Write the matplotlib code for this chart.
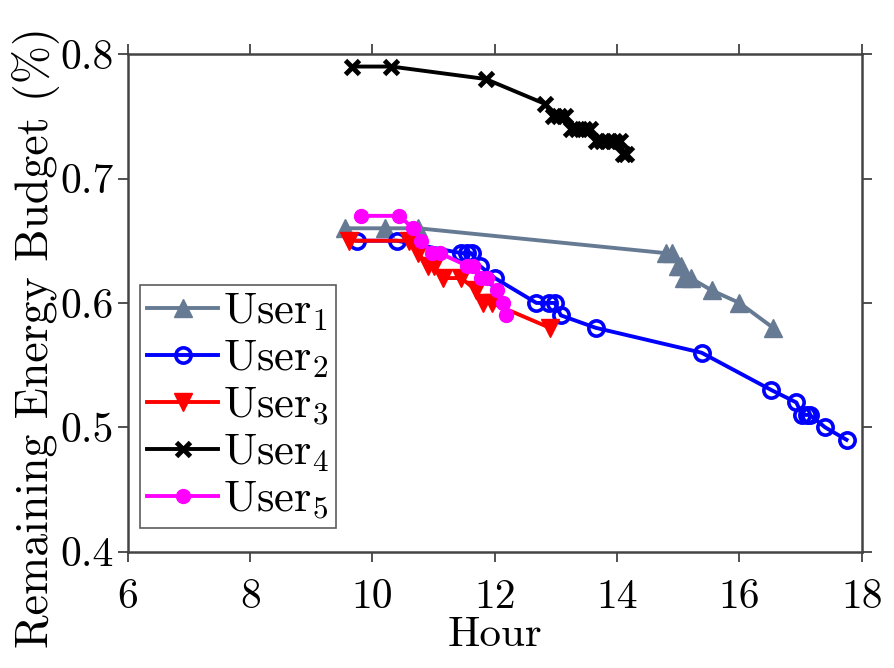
import matplotlib
matplotlib.use('Agg')
import matplotlib.pyplot as plt
import numpy as np

plt.rcParams['font.family'] = 'serif'
plt.rcParams['font.serif'] = ['cmr10', 'DejaVu Serif']
plt.rcParams['mathtext.fontset'] = 'cm'
plt.rcParams['axes.unicode_minus'] = False

# data
user1_x = [9.55, 10.2, 10.75, 14.8, 14.9, 15.0, 15.05, 15.1, 15.2, 15.55, 16.0, 16.55]
user1_y = [0.66, 0.66, 0.66, 0.64, 0.64, 0.63, 0.63, 0.62, 0.62, 0.61, 0.60, 0.58]

user2_x = [9.75, 10.4, 11.45, 11.55, 11.62, 11.75, 12.0, 12.68, 12.88, 12.98, 13.08, 13.65,
           15.38, 16.52, 16.93, 17.02, 17.1, 17.15, 17.4, 17.75]
user2_y = [0.65, 0.65, 0.64, 0.64, 0.64, 0.63, 0.62, 0.60, 0.60, 0.60, 0.59, 0.58,
           0.56, 0.53, 0.52, 0.51, 0.51, 0.51, 0.50, 0.49]

user3_x = [9.62, 10.6, 10.75, 10.9, 11.0, 11.15, 11.45, 11.7, 11.8, 11.95, 12.9]
user3_y = [0.65, 0.65, 0.64, 0.63, 0.63, 0.62, 0.62, 0.61, 0.60, 0.60, 0.58]

user4_x = [9.66, 10.31, 11.85, 12.82, 12.95, 13.05, 13.15, 13.25, 13.35, 13.45, 13.55,
           13.65, 13.75, 13.85, 13.95, 14.05, 14.1, 14.15]
user4_y = [0.79, 0.79, 0.78, 0.76, 0.75, 0.75, 0.75, 0.74, 0.74, 0.74, 0.74,
           0.73, 0.73, 0.73, 0.73, 0.73, 0.72, 0.72]

user5_x = [9.82, 10.44, 10.66, 10.8, 10.98, 11.1, 11.54, 11.65, 11.78, 11.88, 12.03, 12.13, 12.19]
user5_y = [0.67, 0.67, 0.66, 0.65, 0.64, 0.64, 0.63, 0.63, 0.62, 0.62, 0.61, 0.60, 0.59]

x_ticks = [6, 8, 10, 12, 14, 16, 18]
y_ticks = [0.4, 0.5, 0.6, 0.7, 0.8]

fig = plt.figure(figsize=(8.94, 6.68), dpi=100)
ax = fig.add_axes([0.143, 0.174, 0.821, 0.745])

lw = 2.8
ax.plot(user1_x, user1_y, color='#667b93', marker='^', markersize=13, lw=lw,
        label=r'$\mathrm{User}_1$')
ax.plot(user2_x, user2_y, color='blue', marker='o', markersize=11, markerfacecolor='none',
        markeredgewidth=2.6, lw=lw, label=r'$\mathrm{User}_2$')
ax.plot(user3_x, user3_y, color='red', marker='v', markersize=13, lw=lw,
        label=r'$\mathrm{User}_3$')
ax.plot(user4_x, user4_y, color='black', marker='x', markersize=10, markeredgewidth=3.5, lw=lw,
        label=r'$\mathrm{User}_4$')
ax.plot(user5_x, user5_y, color='magenta', marker='o', markersize=10, lw=lw,
        label=r'$\mathrm{User}_5$')

ax.set_xlim(6, 18)
ax.set_ylim(0.4, 0.8)
ax.set_xticks(x_ticks)
ax.set_yticks(y_ticks)
ax.set_xticklabels([str(v) for v in x_ticks])
ax.set_yticklabels(['%.1f' % v for v in y_ticks])
ax.tick_params(direction='out', length=7, width=1.2, labelsize=30, colors='#333333',
               top=True, right=True)
ax.tick_params(axis='x', pad=12)
ax.tick_params(labelcolor='black')
for s in ax.spines.values():
    s.set_color('#444444')
    s.set_linewidth(1.8)

ax.set_xlabel('Hour', fontsize=31)
ax.xaxis.set_label_coords(0.5, -0.13)
ax.set_ylabel('Remaining Energy Budget (%)', fontsize=33)
ax.yaxis.set_label_coords(-0.093, 0.43)

leg = ax.legend(loc='lower left', bbox_to_anchor=(0.005, 0.03), fontsize=32, frameon=True,
                fancybox=False, edgecolor='#333333', handlelength=1.6, handletextpad=0.1,
                labelspacing=0.12, borderpad=0.15, borderaxespad=0.2)
leg.get_frame().set_linewidth(1.2)

fig.savefig('out.png', dpi=100)
